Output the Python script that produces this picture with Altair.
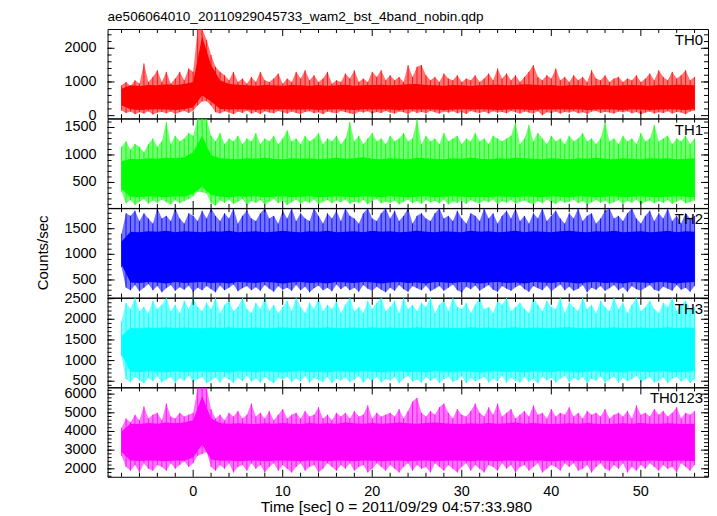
import altair as alt
import pandas as pd

FONT = "Liberation Sans"
TITLE = "ae506064010_20110929045733_wam2_bst_4band_nobin.qdp"
X_TITLE = "Time [sec] 0 = 2011/09/29 04:57:33.980"
Y_TITLE = "Counts/sec"

# time grids (sec)
T_FINE = [round(-8 + 0.5 * i, 1) for i in range(129)]
T_CORE = list(range(-8, 57))
X_RANGE = [-9.56, 57.5]
X_MAJOR = [0, 10, 20, 30, 40, 50]
X_LABELS = ["0", "10", "20", "30", "40", "50"]
X_MINOR = [v for v in range(-8, 57, 2) if v % 10 != 0]

# ---------------- TH0 ----------------
TH0_HI = [900, 1000, 880, 1050, 950, 1550, 1000, 1150, 1350, 1000,
          1300, 950, 1100, 1300, 1050, 1400, 1300, 2573, 2573, 2250,
          1800, 1450, 1300, 1200, 1050, 1300, 1000, 1100, 950, 1150,
          1000, 1300, 1050, 1000, 1100, 1250, 950, 1100, 1000, 1300,
          1100, 1350, 1050, 1200, 1000, 1100, 1300, 950, 1050, 1000,
          1250, 1100, 1350, 1000, 1100, 1000, 1300, 1150, 1350, 1050,
          1200, 1050, 1150, 1000, 1500, 1150, 1450, 1500, 1200, 1050,
          1150, 1000, 1250, 1100, 1050, 1200, 1000, 1100, 1050, 1200,
          1000, 1100, 1250, 1050, 1400, 1100, 1250, 1050, 1200, 1000,
          1150, 1300, 1500, 1150, 1050, 1200, 1100, 1400, 1050, 1150,
          1000, 1200, 1050, 1150, 1000, 1350, 1100, 1050, 1200, 1000,
          1100, 1150, 1000, 1100, 1050, 1200, 1000, 1100, 1250, 1050,
          1350, 1150, 1050, 1300, 1100, 1200, 1350, 1050, 1150]
TH0_LO = [150, 80, 120, 40, 100, 60, 130, 30, 90, 110,
          70, 120, 50, 100, 140, 80, 150, 300, 420, 430,
          300, 100, 60, 130, 90, 40, 120, 80, 150, 60,
          110, 50, 130, 90, 70, 140, 100, 60, 120, 80,
          50, 110, 130, 70, 100, 40, 120, 90, 60, 140,
          100, 70, 30, 120, 90, 130, 60, 110, 80, 140,
          90, 60, 120, 100, 50, 130, 80, 110, 70, 140,
          100, 60, 120, 90, 130, 70, 110, 50, 140, 100,
          80, 120, 60, 130, 90, 110, 70, 140, 100, 60,
          120, 90, 60, 130, 10, 100, 80, 120, 60, 110,
          90, 130, 70, 100, 50, 120, 140, 80, 110, 90,
          60, 120, 100, 130, 70, 110, 40, 90, 120, 60,
          100, 80, 130, 60, 110, 90, 40, 120, 150]
TH0_CHI = [800, 900, 880, 910, 900, 930, 910, 940, 1000, 2350,
           1500, 1050, 940, 920, 900, 890, 910, 900, 890, 910,
           900, 890, 910, 890, 900, 920, 890, 900, 910, 920,
           900, 910, 930, 940, 910, 900, 890, 910, 900, 890,
           900, 910, 920, 900, 910, 930, 920, 900, 910, 890,
           900, 910, 890, 900, 910, 890, 900, 910, 900, 890,
           910, 900, 920, 910, 900]
TH0_CLO = [300, 190, 170, 180, 190, 180, 170, 190, 250, 600,
           420, 200, 180, 190, 180, 170, 190, 180, 190, 180,
           180, 190, 170, 180, 190, 180, 170, 190, 180, 190,
           180, 170, 190, 180, 190, 180, 170, 180, 190, 180,
           190, 180, 170, 180, 190, 180, 170, 190, 180, 190,
           180, 190, 170, 180, 190, 180, 170, 190, 180, 170,
           180, 190, 180, 170, 190]

# ---------------- TH1 ----------------
TH1_HI = [1150, 1250, 1100, 1200, 1150, 1050, 1200, 1300, 1150, 1250,
          1600, 1200, 1350, 1250, 1300, 1400, 1350, 1662, 1662, 1662,
          1350, 1250, 1400, 1200, 1300, 1250, 1350, 1200, 1300, 1250,
          1400, 1200, 1300, 1250, 1350, 1200, 1300, 1450, 1250, 1300,
          1200, 1350, 1250, 1300, 1400, 1200, 1300, 1250, 1350, 1200,
          1300, 1600, 1250, 1350, 1200, 1300, 1400, 1250, 1300, 1200,
          1350, 1250, 1300, 1400, 1250, 1300, 1650, 1200, 1350, 1250,
          1300, 1200, 1400, 1250, 1300, 1350, 1200, 1300, 1250, 1400,
          1250, 1300, 1200, 1350, 1300, 1250, 1300, 1350, 1600, 1200,
          1300, 1550, 1250, 1400, 1300, 1200, 1350, 1250, 1300, 1200,
          1350, 1250, 1300, 1400, 1250, 1300, 1200, 1300, 1600, 1250,
          1300, 1200, 1350, 1250, 1300, 1200, 1400, 1250, 1300, 1550,
          1250, 1300, 1350, 1200, 1300, 1250, 1350, 1200, 1300]
TH1_LO = [330, 120, 180, 90, 150, 200, 110, 170, 130, 190,
          140, 100, 180, 120, 160, 200, 250, 330, 320, 300,
          120, 80, 170, 130, 190, 110, 150, 200, 90, 160,
          130, 180, 100, 150, 200, 120, 170, 90, 140, 190,
          110, 160, 130, 190, 100, 150, 180, 120, 170, 140,
          190, 110, 150, 130, 180, 100, 160, 200, 120, 150,
          130, 170, 100, 150, 190, 120, 160, 110, 180, 140,
          160, 120, 190, 100, 150, 130, 170, 110, 180, 140,
          120, 170, 140, 190, 100, 160, 130, 180, 110, 150,
          170, 130, 100, 160, 120, 190, 140, 110, 170, 130,
          150, 190, 120, 160, 100, 140, 180, 130, 170, 110,
          140, 180, 110, 160, 130, 190, 100, 150, 170, 120,
          160, 130, 180, 110, 150, 190, 120, 140, 170]
TH1_CHI = [880, 930, 920, 940, 930, 950, 940, 960, 1050, 1350,
           1000, 940, 930, 920, 940, 930, 950, 930, 920, 940,
           930, 940, 920, 930, 950, 930, 940, 960, 930, 920,
           940, 930, 920, 950, 940, 930, 920, 940, 930, 950,
           930, 920, 940, 930, 950, 940, 930, 920, 940, 930,
           920, 940, 930, 950, 930, 920, 940, 930, 920, 940,
           930, 940, 920, 930, 940]
TH1_CLO = [380, 240, 230, 250, 240, 230, 250, 240, 300, 420,
           270, 240, 230, 250, 240, 250, 230, 240, 250, 230,
           240, 250, 230, 240, 250, 240, 230, 250, 240, 230,
           250, 240, 230, 240, 250, 230, 240, 250, 240, 230,
           240, 230, 250, 240, 230, 250, 240, 230, 250, 240,
           230, 250, 240, 230, 240, 250, 230, 240, 250, 240,
           230, 240, 250, 240, 230]

# ---------------- TH2 ----------------
TH2_HI = [1400, 1800, 1750, 1850, 1650, 1800, 1700, 1600, 1899, 1700,
          1750, 1650, 1899, 1700, 1600, 1800, 1750, 1650, 1850, 1700,
          1899, 1750, 1650, 1800, 1700, 1899, 1600, 1750, 1850, 1700,
          1650, 1800, 1899, 1700, 1750, 1600, 1850, 1700, 1899, 1650,
          1800, 1700, 1650, 1899, 1750, 1600, 1800, 1700, 1850, 1650,
          1899, 1750, 1700, 1600, 1800, 1899, 1700, 1650, 1800, 1899,
          1700, 1850, 1650, 1750, 1899, 1600, 1750, 1800, 1700, 1650,
          1800, 1899, 1700, 1750, 1650, 1850, 1700, 1600, 1800, 1750,
          1650, 1899, 1700, 1800, 1600, 1750, 1850, 1700, 1899, 1650,
          1750, 1600, 1800, 1700, 1899, 1650, 1750, 1850, 1700, 1600,
          1800, 1700, 1899, 1650, 1750, 1800, 1600, 1700, 1850, 1899,
          1700, 1750, 1650, 1800, 1899, 1700, 1600, 1750, 1850, 1650,
          1800, 1700, 1899, 1650, 1750, 1600, 1800, 1700, 1750]
TH2_LO = [750, 350, 300, 400, 280, 350, 420, 300, 380, 260,
          340, 400, 290, 360, 310, 390, 270, 350, 300, 380,
          320, 260, 390, 300, 350, 410, 280, 340, 380, 300,
          360, 290, 400, 330, 270, 380, 310, 350, 290, 400,
          300, 370, 260, 340, 390, 300, 350, 280, 410, 320,
          380, 300, 350, 270, 400, 330, 290, 370, 310, 260,
          350, 290, 400, 320, 270, 380, 340, 300, 390, 280,
          330, 380, 290, 350, 410, 300, 260, 370, 320, 390,
          290, 350, 400, 310, 270, 380, 330, 290, 360, 400,
          320, 270, 380, 340, 300, 390, 280, 350, 410, 300,
          370, 290, 330, 400, 260, 350, 310, 380, 290, 340,
          400, 300, 360, 270, 380, 320, 290, 350, 400, 310,
          280, 370, 330, 290, 400, 310, 350, 270, 380]
TH2_CHI = [1250, 1440, 1430, 1450, 1440, 1460, 1430, 1450, 1440, 1430,
           1450, 1440, 1460, 1430, 1440, 1450, 1430, 1440, 1460, 1440,
           1430, 1450, 1440, 1460, 1430, 1440, 1450, 1430, 1460, 1440,
           1450, 1430, 1440, 1460, 1440, 1430, 1450, 1440, 1430, 1460,
           1440, 1450, 1430, 1440, 1460, 1430, 1450, 1440, 1430, 1450,
           1460, 1440, 1430, 1450, 1440, 1460, 1430, 1440, 1450, 1430,
           1440, 1460, 1430, 1450, 1440]
TH2_CLO = [800, 450, 440, 460, 450, 430, 460, 440, 450, 460,
           440, 450, 430, 460, 450, 440, 460, 450, 430, 450,
           460, 440, 450, 430, 460, 450, 440, 460, 450, 430,
           450, 460, 440, 450, 430, 460, 450, 440, 460, 450,
           430, 450, 460, 440, 450, 430, 460, 450, 440, 460,
           450, 430, 450, 460, 440, 450, 430, 460, 450, 440,
           460, 450, 430, 450, 460]

# ---------------- TH3 ----------------
TH3_HI = [1950, 2400, 2250, 2519, 2200, 2300, 2150, 2450, 2250, 2350,
          2519, 2200, 2350, 2150, 2450, 2250, 2519, 2300, 2200, 2400,
          2250, 2519, 2150, 2350, 2450, 2200, 2300, 2519, 2250, 2150,
          2400, 2250, 2519, 2200, 2350, 2150, 2300, 2450, 2200, 2519,
          2300, 2150, 2400, 2250, 2519, 2200, 2350, 2250, 2450, 2150,
          2350, 2519, 2200, 2300, 2150, 2450, 2250, 2400, 2519, 2200,
          2300, 2450, 2150, 2519, 2250, 2350, 2200, 2400, 2300, 2519,
          2150, 2350, 2450, 2200, 2519, 2300, 2250, 2400, 2150, 2350,
          2519, 2250, 2300, 2150, 2450, 2350, 2519, 2200, 2300, 2400,
          2250, 2150, 2519, 2350, 2200, 2450, 2300, 2250, 2519, 2150,
          2400, 2300, 2200, 2519, 2250, 2350, 2150, 2450, 2300, 2200,
          2519, 2250, 2400, 2150, 2350, 2519, 2200, 2300, 2450, 2250,
          2150, 2400, 2300, 2519, 2200, 2350, 2450, 2250, 2300]
TH3_LO = [1100, 550, 480, 600, 520, 450, 580, 500, 620, 470,
          540, 600, 460, 570, 510, 630, 480, 550, 600, 450,
          520, 590, 470, 610, 540, 460, 580, 500, 630, 490,
          560, 470, 600, 520, 450, 580, 540, 610, 480, 560,
          500, 620, 460, 570, 530, 480, 600, 450, 560, 520,
          590, 480, 540, 620, 460, 570, 500, 610, 470, 550,
          520, 600, 450, 560, 630, 490, 540, 470, 600, 510,
          580, 460, 550, 610, 480, 530, 620, 450, 570, 500,
          540, 610, 470, 560, 500, 630, 460, 580, 520, 470,
          600, 490, 550, 450, 610, 520, 580, 470, 560, 630,
          480, 570, 520, 600, 450, 560, 510, 620, 470, 540,
          610, 460, 580, 500, 550, 630, 480, 540, 600, 470,
          520, 590, 450, 560, 610, 490, 570, 460, 540]
TH3_CHI = [1600, 1790, 1780, 1800, 1790, 1810, 1780, 1800, 1790, 1780,
           1800, 1790, 1810, 1780, 1790, 1800, 1780, 1790, 1810, 1790,
           1780, 1800, 1790, 1810, 1780, 1790, 1800, 1780, 1810, 1790,
           1800, 1780, 1790, 1810, 1790, 1780, 1800, 1790, 1780, 1810,
           1790, 1800, 1780, 1790, 1810, 1780, 1800, 1790, 1780, 1800,
           1810, 1790, 1780, 1800, 1790, 1810, 1780, 1790, 1800, 1780,
           1790, 1810, 1780, 1800, 1790]
TH3_CLO = [1150, 730, 720, 740, 730, 710, 740, 720, 730, 740,
           720, 730, 710, 740, 730, 720, 740, 730, 710, 730,
           740, 720, 730, 710, 740, 730, 720, 740, 730, 710,
           730, 740, 720, 730, 710, 740, 730, 720, 740, 730,
           710, 730, 740, 720, 730, 710, 740, 730, 720, 740,
           730, 710, 730, 740, 720, 730, 710, 740, 730, 720,
           740, 730, 710, 730, 740]

# ---------------- TH0123 ----------------
TH0123_HI = [4200, 4700, 4500, 4900, 4600, 5350, 4700, 4900, 5000, 4600,
             5500, 4800, 4700, 5000, 4800, 4900, 5000, 6357, 6357, 6357,
             5200, 4700, 4900, 4600, 5000, 4800, 5100, 4700, 4900, 5500,
             4800, 5000, 4700, 5100, 4600, 4900, 5200, 4700, 4900, 5000,
             4700, 5100, 4800, 4900, 5300, 4700, 4900, 4600, 5000, 4800,
             5000, 4700, 5100, 4800, 4900, 5400, 4700, 5000, 4800, 4900,
             5000, 4800, 5200, 4700, 5100, 5600, 5800, 5000, 4800, 5100,
             4900, 5300, 5500, 5000, 4700, 5200, 4900, 4800, 5100, 5500,
             5000, 4800, 5300, 4900, 5500, 4800, 5000, 5200, 4700, 4900,
             5100, 4800, 5400, 4900, 5000, 4700, 5200, 4800, 5000, 4900,
             5300, 4800, 5000, 4700, 5100, 4900, 5000, 4800, 5200, 4700,
             4900, 5000, 4800, 5100, 4700, 5400, 4900, 5000, 4800, 5200,
             4900, 5100, 4800, 5000, 5300, 4700, 5000, 4900, 5100]
TH0123_LO = [2700, 2100, 1900, 2200, 1800, 2300, 2000, 1900, 2200, 2100,
             1900, 2300, 2000, 2200, 2400, 2100, 2300, 2700, 2800, 2900,
             2100, 1900, 2200, 2000, 2300, 1800, 2100, 2200, 1900, 2300,
             2000, 2200, 1800, 2100, 2300, 1900, 2200, 2000, 1800, 2100,
             2300, 1900, 2100, 2200, 1800, 2000, 2300, 2100, 1900, 2200,
             2000, 2300, 1900, 2100, 2200, 1800, 2000, 2300, 2100, 1900,
             2200, 2000, 1800, 2100, 2300, 1900, 2200, 2000, 2100, 1800,
             2300, 2100, 1900, 2200, 2000, 1800, 2100, 2300, 1900, 2200,
             2000, 1800, 2200, 2100, 1900, 2300, 2000, 2200, 1800, 2100,
             2200, 1900, 2100, 2300, 1800, 2000, 2200, 2100, 1900, 2300,
             2100, 2300, 1900, 2000, 2200, 1800, 2100, 2300, 2000, 1900,
             2200, 2000, 2300, 1800, 2100, 1900, 2200, 2000, 2300, 2100,
             1900, 2200, 2000, 2100, 1800, 2300, 2100, 1900, 2200]
TH0123_CHI = [4000, 4420, 4400, 4450, 4420, 4480, 4440, 4480, 4600, 5900,
              4700, 4450, 4420, 4440, 4420, 4400, 4440, 4420, 4450, 4420,
              4400, 4450, 4420, 4440, 4420, 4480, 4440, 4420, 4450, 4420,
              4440, 4480, 4440, 4420, 4450, 4480, 4440, 4420, 4400, 4440,
              4420, 4450, 4420, 4440, 4480, 4420, 4450, 4420, 4400, 4420,
              4440, 4420, 4450, 4420, 4400, 4420, 4440, 4420, 4450, 4420,
              4420, 4440, 4420, 4400, 4420]
TH0123_CLO = [2900, 2440, 2420, 2450, 2430, 2400, 2450, 2430, 2600, 3300,
              2500, 2430, 2450, 2400, 2430, 2450, 2400, 2430, 2450, 2430,
              2400, 2450, 2430, 2400, 2450, 2430, 2400, 2450, 2430, 2400,
              2430, 2450, 2400, 2430, 2450, 2400, 2430, 2450, 2430, 2400,
              2450, 2430, 2400, 2450, 2430, 2400, 2450, 2430, 2400, 2430,
              2450, 2400, 2430, 2450, 2430, 2400, 2450, 2430, 2400, 2450,
              2430, 2400, 2450, 2430, 2400]

PANELS = [
    dict(name="TH0", color="#ff0000", dom=[-80, 2573], hi=TH0_HI, lo=TH0_LO,
         chi=TH0_CHI, clo=TH0_CLO, major=[0, 1000, 2000],
         minor=list(range(200, 2573, 200))),
    dict(name="TH1", color="#00ff00", dom=[36, 1662], hi=TH1_HI, lo=TH1_LO,
         chi=TH1_CHI, clo=TH1_CLO, major=[500, 1000, 1500],
         minor=list(range(100, 1662, 100))),
    dict(name="TH2", color="#0000ff", dom=[157, 1899], hi=TH2_HI, lo=TH2_LO,
         chi=TH2_CHI, clo=TH2_CLO, major=[500, 1000, 1500],
         minor=list(range(200, 1899, 100))),
    dict(name="TH3", color="#00ffff", dom=[356, 2519], hi=TH3_HI, lo=TH3_LO,
         chi=TH3_CHI, clo=TH3_CLO, major=[500, 1000, 1500, 2000, 2500],
         minor=list(range(400, 2519, 100))),
    dict(name="TH0123", color="#ff00ff", dom=[1573, 6357], hi=TH0123_HI, lo=TH0123_LO,
         chi=TH0123_CHI, clo=TH0123_CLO, major=[2000, 3000, 4000, 5000, 6000],
         minor=list(range(1600, 6357, 200))),
]

W, H = 603, 89.7
MAJ, MIN = 7, 4
LABEL_SIZE = 14.5


def make_panel(p, idx):
    last = idx == len(PANELS) - 1
    xs = alt.Scale(domain=X_RANGE, nice=False, zero=False)
    ys = alt.Scale(domain=p["dom"], nice=False, zero=False)
    fine = pd.DataFrame({"t": T_FINE, "hi": p["hi"], "lo": p["lo"]})
    core = pd.DataFrame({"t": T_CORE, "hi": p["chi"], "lo": p["clo"]})

    def X(f):
        return alt.X(f, type="quantitative", scale=xs, axis=None)

    def Y(f):
        return alt.Y(f, type="quantitative", scale=ys, axis=None)

    outer = alt.Chart(fine).mark_area(color=p["color"], opacity=0.55, clip=True).encode(
        x=X("t"), y=Y("hi"), y2="lo:Q")
    spikes = alt.Chart(fine).mark_rule(color=p["color"], strokeWidth=1, opacity=0.85,
                                       clip=True).encode(x=X("t"), y=Y("hi"), y2="lo:Q")
    inner = alt.Chart(core).mark_area(color=p["color"], clip=True).encode(
        x=X("t"), y=Y("hi"), y2="lo:Q")

    def yrule(vals, x1, x2):
        return alt.Chart(pd.DataFrame({"v": vals})).mark_rule(color="black", strokeWidth=1).encode(
            y=Y("v"), x=alt.value(x1), x2=alt.value(x2))

    def xrule(vals, y1, y2):
        return alt.Chart(pd.DataFrame({"v": vals})).mark_rule(color="black", strokeWidth=1).encode(
            x=X("v"), y=alt.value(y1), y2=alt.value(y2))

    rules = [
        yrule(p["major"], 0, MAJ), yrule(p["minor"], 0, MIN),
        yrule(p["major"], W - MAJ, W), yrule(p["minor"], W - MIN, W),
        xrule(X_MAJOR, H - MAJ, H), xrule(X_MINOR, H - MIN, H),
        xrule(X_MAJOR, 0, MAJ), xrule(X_MINOR, 0, MIN),
    ]
    ylab = alt.Chart(pd.DataFrame({"v": p["major"], "s": [str(v) for v in p["major"]]})).mark_text(
        align="right", baseline="middle", font=FONT, fontSize=LABEL_SIZE, color="black").encode(
        y=Y("v"), x=alt.value(-11), text="s:N")
    label = alt.Chart(pd.DataFrame({"n": [p["name"]]})).mark_text(
        align="right", baseline="alphabetic", font=FONT, fontSize=15, color="black").encode(
        x=alt.value(W - 5), y=alt.value(16), text="n:N")
    layers = [outer, spikes, inner, *rules, ylab, label]

    if idx == 0:
        layers.append(alt.Chart(pd.DataFrame({"s": [TITLE]})).mark_text(
            align="left", baseline="alphabetic", font=FONT, fontSize=13.6, color="black").encode(
            x=alt.value(0), y=alt.value(-8), text="s:N"))
    if idx == 2:
        layers.append(alt.Chart(pd.DataFrame({"s": [Y_TITLE]})).mark_text(
            align="center", baseline="middle", angle=270, font=FONT, fontSize=15,
            color="black").encode(x=alt.value(-65), y=alt.value(H / 2), text="s:N"))
    if last:
        layers.append(alt.Chart(pd.DataFrame({"v": X_MAJOR, "s": X_LABELS})).mark_text(
            align="center", baseline="top", font=FONT, fontSize=LABEL_SIZE, color="black").encode(
            x=X("v"), y=alt.value(H + 8), text="s:N"))
        layers.append(alt.Chart(pd.DataFrame({"s": [X_TITLE]})).mark_text(
            align="center", baseline="alphabetic", font=FONT, fontSize=15.5, color="black").encode(
            x=alt.value(290), y=alt.value(H + 35), text="s:N"))

    return alt.layer(*layers).properties(width=W, height=H)


chart = alt.vconcat(*[make_panel(p, i) for i, p in enumerate(PANELS)], spacing=0,
                    bounds="flush").properties(
    padding={"left": 27, "top": 0, "right": 0, "bottom": 0}
).configure_view(stroke="black", strokeWidth=1).configure_concat(spacing=0)

chart.save("out.html", embed_options={"renderer": "svg", "actions": False})
